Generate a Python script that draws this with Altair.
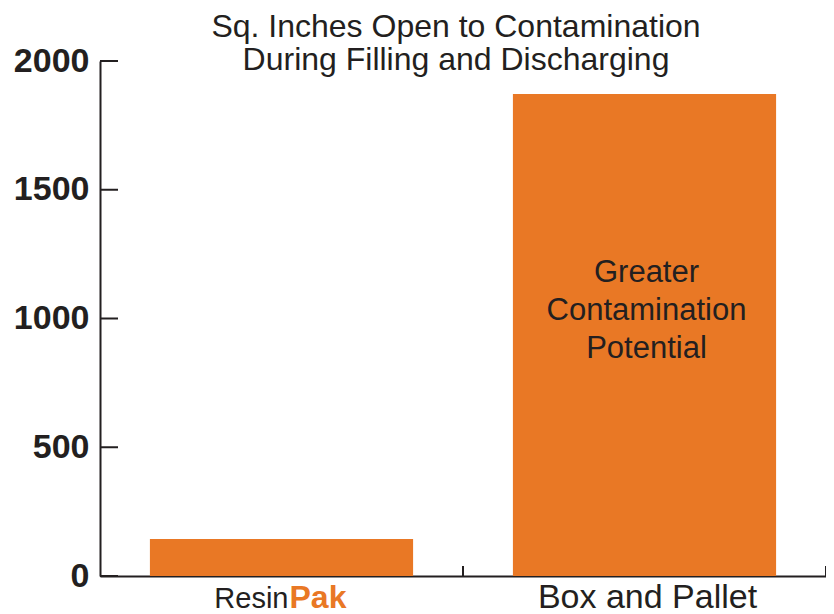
import altair as alt
import pandas as pd

# ---- data ----
categories = ["ResinPak", "Box and Pallet"]
values = [144, 1872]
y_ticks = [0, 500, 1000, 1500, 2000]
title_lines = ["Sq. Inches Open to Contamination", "During Filling and Discharging"]
annotation_cat = ["Box and Pallet"]
annotation_lines = ["Greater", "Contamination", "Potential"]
resin_parts = ["Resin", "Pak"]
box_label = ["Box and Pallet"]

# ---- style ----
W, H = 726, 515
ORANGE = "#E97825"
DARK = "#231F20"
FONT = "Liberation Sans"

x_scale = alt.Scale(domain=categories, paddingInner=0, paddingOuter=0)
x_axis = alt.Axis(labels=False, ticks=False, domainColor=DARK, domainWidth=2,
                  title=None, grid=False)
y_scale = alt.Scale(domain=[0, 2000], nice=False)
y_axis = alt.Axis(values=y_ticks, ticks=False, tickSize=0, labelPadding=11,
                  labelFont=FONT, labelFontWeight="bold", labelFontSize=34,
                  labelColor=DARK, domainColor=DARK, domainWidth=2,
                  grid=False, title=None, format="d")

bars_df = pd.DataFrame({"cat": categories, "value": values})

bars = alt.Chart(bars_df).mark_bar(color=ORANGE, width=alt.RelativeBandSize(0.725)).encode(
    x=alt.X("cat:N", scale=x_scale, axis=x_axis, sort=categories),
    y=alt.Y("value:Q", scale=y_scale, axis=y_axis),
)

ytick = alt.Chart(pd.DataFrame({"value": y_ticks})).mark_rule(
    color=DARK, strokeWidth=2).encode(
    y=alt.Y("value:Q", scale=y_scale, axis=y_axis),
    x=alt.value(0), x2=alt.value(18),
)

xtick = alt.Chart(pd.DataFrame({"cat": categories})).mark_rule(
    color=DARK, strokeWidth=2).encode(
    x=alt.X("cat:N", scale=x_scale, axis=x_axis, bandPosition=1, sort=categories),
    y=alt.value(H - 10), y2=alt.value(H),
)

title = alt.Chart(pd.DataFrame({"k": [0]})).mark_text(
    text=title_lines, font=FONT, fontSize=32, lineHeight=33, color=DARK,
    align="center", baseline="alphabetic").encode(
    x=alt.value(356), y=alt.value(-24))

annot = alt.Chart(pd.DataFrame({"cat": annotation_cat})).mark_text(
    text=annotation_lines, font=FONT, fontSize=31, lineHeight=38, color=DARK,
    align="center", baseline="alphabetic", dx=2).encode(
    x=alt.X("cat:N", scale=x_scale, axis=x_axis, sort=categories),
    y=alt.value(221))

lab_df = pd.DataFrame({"cat": [categories[0]]})
resin = alt.Chart(lab_df).mark_text(
    text=resin_parts[0], font=FONT, fontSize=29, color=DARK, align="right",
    baseline="alphabetic", dx=7).encode(
    x=alt.X("cat:N", scale=x_scale, axis=x_axis, sort=categories),
    y=alt.value(H + 32))
pak = alt.Chart(lab_df).mark_text(
    text=resin_parts[1], font=FONT, fontSize=32, fontWeight="bold", color=ORANGE,
    align="left", baseline="alphabetic", dx=8).encode(
    x=alt.X("cat:N", scale=x_scale, axis=x_axis, sort=categories),
    y=alt.value(H + 32))
box = alt.Chart(pd.DataFrame({"cat": box_label})).mark_text(
    text=box_label[0], font=FONT, fontSize=34, color=DARK, align="center",
    baseline="alphabetic", dx=3).encode(
    x=alt.X("cat:N", scale=x_scale, axis=x_axis, sort=categories),
    y=alt.value(H + 32))

chart = alt.layer(bars, ytick, xtick, title, annot, resin, pak, box).properties(
    width=W, height=H,
    autosize=alt.AutoSizeParams(type="none"),
    padding={"left": 92, "top": 53, "right": 0, "bottom": 38},
).configure_view(stroke=None)

chart.save("out.html", embed_options={"renderer": "svg", "actions": False})
